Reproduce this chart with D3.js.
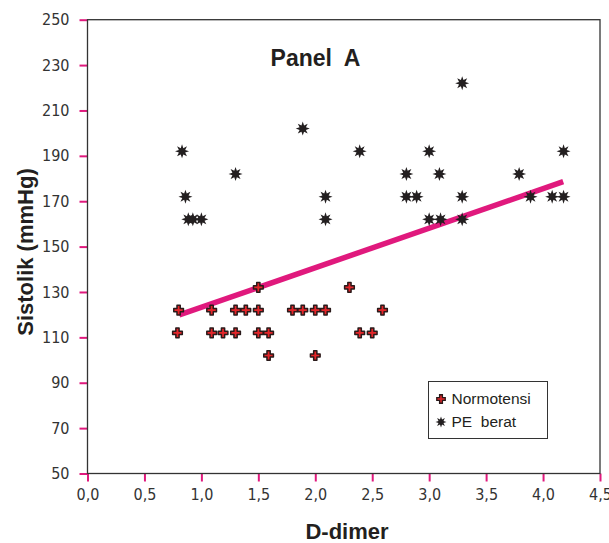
<!DOCTYPE html>
<html>
<head>
<meta charset="utf-8">
<script src="https://cdn.jsdelivr.net/npm/d3@7"></script>
<style>
  html, body { margin: 0; padding: 0; background: #fff; }
  svg { display: block; }
</style>
</head>
<body>
<div id="chart"></div>
<script>
// Normotensi (D-dimer, sistolik)
const normoX = [0.8, 0.79, 1.09, 1.09, 1.19, 1.3, 1.3, 1.39, 1.5, 1.5, 1.5, 1.59, 1.59, 1.8, 1.89, 2.0, 2.0, 2.09, 2.3, 2.39, 2.5, 2.59];
const normoY = [122, 112, 122, 112, 112, 122, 112, 122, 132, 122, 112, 112, 102, 122, 122, 122, 102, 122, 132, 112, 112, 122];

// PE berat
const peX = [0.83, 0.86, 0.885, 0.925, 1.0, 1.3, 1.89, 2.09, 2.09, 2.39, 2.8, 2.8, 2.89, 3.0, 3.0, 3.09, 3.1, 3.29, 3.29, 3.29, 3.79, 3.89, 4.08, 4.18, 4.18];
const peY = [192, 172, 162, 162, 162, 182, 202, 172, 162, 192, 182, 172, 172, 192, 162, 182, 162, 222, 172, 162, 182, 172, 172, 192, 172];

// regression line end points
const fitX = [0.806, 4.177];
const fitY = [119.9, 178.6];

const xTicks = [0, 0.5, 1, 1.5, 2, 2.5, 3, 3.5, 4, 4.5];
const yTicks = [50, 70, 90, 110, 130, 150, 170, 190, 210, 230, 250];
const legendLabels = ["Normotensi", "PE  berat"];

const svgWidth = 609, svgHeight = 543;
const marginTop = 19.7, marginRight = 9, marginBottom = 69.5, marginLeft = 87.5;
const width = svgWidth - marginLeft - marginRight;
const height = svgHeight - marginTop - marginBottom;

const pink = "#e0197d";
const ink = "#231f20";
const narrow = "'Liberation Sans Narrow', 'Arial Narrow', 'DejaVu Sans Condensed', sans-serif";
const sans = "'Liberation Sans', Arial, sans-serif";

const svg = d3.select("#chart").append("svg")
  .attr("width", svgWidth)
  .attr("height", svgHeight);

const chart = svg.append("g")
  .attr("transform", `translate(${marginLeft}, ${marginTop})`);

const x = d3.scaleLinear().domain([0, 4.5]).range([0, width]);
const y = d3.scaleLinear().domain([50, 250]).range([height, 0]);

// axes
const xAxis = chart.append("g")
  .attr("transform", `translate(0, ${height})`)
  .call(d3.axisBottom(x).tickValues(xTicks).tickSize(8).tickPadding(7)
    .tickFormat((d) => d3.format(".1f")(d).replace(".", ",")));

const yAxis = chart.append("g")
  .call(d3.axisLeft(y).tickValues(yTicks).tickSize(8).tickPadding(10)
    .tickFormat(d3.format("d")));

[xAxis, yAxis].forEach((ax) => {
  ax.select(".domain").remove();
  ax.selectAll(".tick line").attr("stroke", pink).attr("stroke-width", 2);
  ax.selectAll(".tick text")
    .attr("fill", "#333")
    .style("font-family", narrow)
    .style("font-size", "16px");
});

// frame
chart.append("rect")
  .attr("width", width)
  .attr("height", height)
  .attr("fill", "none")
  .attr("stroke", "#333")
  .attr("stroke-width", 1.3);

// regression line
chart.append("line")
  .attr("x1", x(fitX[0])).attr("y1", y(fitY[0]))
  .attr("x2", x(fitX[1])).attr("y2", y(fitY[1]))
  .attr("stroke", pink)
  .attr("stroke-width", 5.5);

// 8 pointed star
const starPath = (r1, r2) => {
  const pts = d3.range(16).map((i) => {
    const a = (i * Math.PI) / 8 - Math.PI / 2;
    const r = i % 2 ? r2 : r1;
    return [r * Math.cos(a), r * Math.sin(a)];
  });
  return "M" + pts.join("L") + "Z";
};
const crossPath = d3.symbol(d3.symbolCross, 52)();

const normo = normoX.map((d, i) => ({ x: d, y: normoY[i] }));
const pe = peX.map((d, i) => ({ x: d, y: peY[i] }));

chart.append("g")
  .selectAll("path")
  .data(normo)
  .join("path")
  .attr("transform", (d) => `translate(${x(d.x)}, ${y(d.y)})`)
  .attr("d", crossPath)
  .attr("fill", "#e3262a")
  .attr("stroke", "#2a1a1a")
  .attr("stroke-width", 1.5)
  .attr("stroke-linejoin", "round");

chart.append("g")
  .selectAll("path")
  .data(pe)
  .join("path")
  .attr("transform", (d) => `translate(${x(d.x)}, ${y(d.y)})`)
  .attr("d", starPath(7, 3.4))
  .attr("fill", ink);

// title
svg.append("text")
  .attr("x", 315.5)
  .attr("y", 66)
  .attr("text-anchor", "middle")
  .style("font-family", sans)
  .style("font-weight", "bold")
  .style("font-size", "23px")
  .attr("fill", ink)
  .attr("xml:space", "preserve")
  .text("Panel  A");

// axis titles
svg.append("text")
  .attr("x", 347)
  .attr("y", 539)
  .attr("text-anchor", "middle")
  .style("font-family", sans)
  .style("font-weight", "bold")
  .style("font-size", "22px")
  .attr("fill", ink)
  .text("D-dimer");

svg.append("text")
  .attr("transform", "translate(33, 252) rotate(-90)")
  .attr("text-anchor", "middle")
  .style("font-family", sans)
  .style("font-weight", "bold")
  .style("font-size", "22px")
  .attr("fill", ink)
  .text("Sistolik (mmHg)");

// legend
const legend = svg.append("g").attr("transform", "translate(428.5, 381.5)");
legend.append("rect")
  .attr("width", 119)
  .attr("height", 57)
  .attr("fill", "#fff")
  .attr("stroke", "#333")
  .attr("stroke-width", 1);

legend.append("path")
  .attr("transform", "translate(12.5, 17.5)")
  .attr("d", d3.symbol(d3.symbolCross, 40)())
  .attr("fill", "#e3262a")
  .attr("stroke", "#2a1a1a")
  .attr("stroke-width", 1.3);
legend.append("path")
  .attr("transform", "translate(12.5, 40.5)")
  .attr("d", starPath(5.5, 2.7))
  .attr("fill", ink);

legend.selectAll("text")
  .data(legendLabels)
  .join("text")
  .attr("x", 23)
  .attr("y", (d, i) => 17.5 + i * 23)
  .attr("dy", "0.35em")
  .attr("xml:space", "preserve")
  .style("font-family", sans)
  .style("font-size", "15.5px")
  .attr("fill", ink)
  .text((d) => d);
</script>
</body>
</html>
